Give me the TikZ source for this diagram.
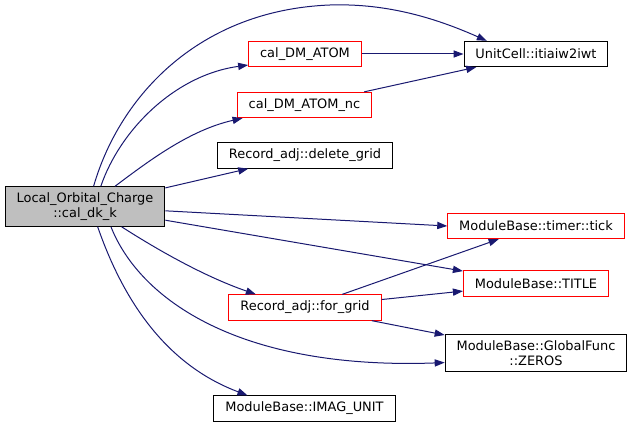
\documentclass[tikz,border=0pt]{standalone}
\usepackage{fontspec}
\setmainfont{DejaVu Sans}
\usetikzlibrary{arrows.meta}

\definecolor{edgeblue}{HTML}{191970}
\definecolor{boxgray}{HTML}{BFBFBF}

\begin{document}
\begin{tikzpicture}[x=0.75pt, y=-0.75pt,
  fn/.style={draw=black, line width=0.75pt, inner xsep=8.6pt, inner ysep=4.5pt,
    minimum height=19pt, align=center, font=\fontsize{9.7}{11}\selectfont},
  fnred/.style={fn, draw=red},
  call/.style={draw=edgeblue, line width=0.75pt,
    -{Triangle[length=7.5pt, width=5.4pt]}}]
  % Fixed page size
  \useasboundingbox (0,0) rectangle (633,428);

  % Caller
  \node[fn, fill=boxgray] (main) at (85,206.5) {Local\_Orbital\_Charge\\::cal\_dk\_k};

  % Middle column
  \node[fnred] (atom) at (305,54) {cal\_DM\_ATOM};
  \node[fnred] (atomnc) at (304.5,105) {cal\_DM\_ATOM\_nc};
  \node[fn] (delgrid) at (305,155.5) {Record\_adj::delete\_grid};
  \node[fnred] (forgrid) at (305,307.5) {Record\_adj::for\_grid};
  \node[fn] (imag) at (304.5,408.5) {ModuleBase::IMAG\_UNIT};

  % Right column
  \node[fn] (unitcell) at (536,54) {UnitCell::itiaiw2iwt};
  \node[fnred] (tick) at (536,226) {ModuleBase::timer::tick};
  \node[fnred] (title) at (536,283.5) {ModuleBase::TITLE};
  \node[fn] (zeros) at (536,353) {ModuleBase::GlobalFunc\\::ZEROS};

  % Calls from the caller
  \draw[call] (main.67.7) .. controls (120,95) and (200,10) .. (330,5)
    .. controls (390,3) and (440,20) .. (unitcell.165);
  \draw[call] (main.52.4) .. controls (120,130) and (175,75) .. (atom.191);
  \draw[call] (main.34.9) .. controls (150,160) and (190,130) .. (atomnc.192.3);
  \draw[call] (main) -- (delgrid);
  \draw[call] (main) -- (tick.west);
  \draw[call] (main) -- (title);
  \draw[call] (main.-29) .. controls (150,245) and (200,275) .. (forgrid.165);
  \draw[call] (main.-38) .. controls (140,300) and (240,370) .. (zeros.186.3);
  \draw[call] (main.-58.4) .. controls (130,320) and (180,370) .. (imag.167.5);

  % Calls from the middle column
  \draw[call] (atom) -- (unitcell);
  \draw[call] (atomnc) -- (unitcell);
  \draw[call] (forgrid) -- (tick);
  \draw[call] (forgrid) -- (title);
  \draw[call] (forgrid) -- (zeros);

\end{tikzpicture}
\end{document}
